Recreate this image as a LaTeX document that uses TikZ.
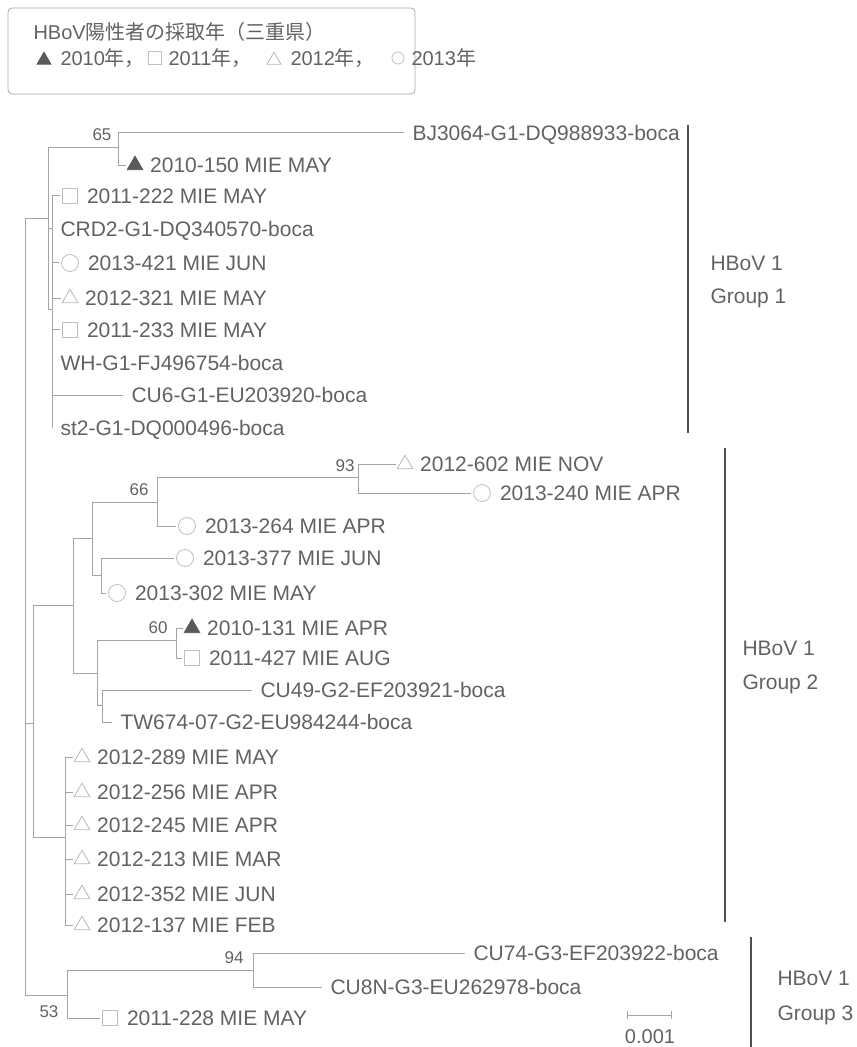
\documentclass[tikz,border=0pt]{standalone}
\usepackage{fontspec}
\setmainfont{Liberation Sans}
\newfontfamily\jp{Noto Sans CJK JP}
\usetikzlibrary{arrows.meta,positioning,shapes.geometric}
\definecolor{txtgray}{HTML}{626262}
\definecolor{linegray}{HTML}{A4A4A4}
\definecolor{bargray}{HTML}{505050}
\tikzset{every picture/.style={line width=0.5pt},
  branch/.style={draw=linegray, line width=0.5pt},
  leaf/.style={anchor=west, inner xsep=4pt, inner ysep=0pt, text height=7.5pt, text depth=0pt, text=txtgray, font=\fontsize{10.5}{12}\selectfont},
  legtxt/.style={anchor=west, inner sep=0pt, text height=7.5pt, text depth=0pt, text=txtgray, font=\fontsize{10}{12}\selectfont},
  boot/.style={inner sep=0pt, text=txtgray, font=\fontsize{8.5}{10}\selectfont},
  grp/.style={anchor=west, inner sep=0pt, text height=7.5pt, text depth=0pt, text=txtgray, font=\fontsize{10.5}{12}\selectfont},
  bar/.style={draw=bargray, line width=0.75pt},
  mtri/.style={regular polygon, regular polygon sides=3, minimum size=9pt, inner sep=0pt, outer sep=1.5pt, yshift=-1.1pt, draw=black!28, line width=0.4pt},
  mtrifill/.style={mtri, draw=black!65, fill=black!65},
  msq/.style={rectangle, minimum size=7.5pt, inner sep=0pt, outer sep=1.5pt, draw=black!25, line width=0.4pt},
  mcirc/.style={circle, minimum size=8.5pt, inner sep=0pt, outer sep=1.5pt, draw=black!25, line width=0.4pt}}

\begin{document}
\begin{tikzpicture}[x=0.5pt, y=-0.5pt]
    \useasboundingbox (0,0) rectangle (856,1047);

    % 绘制 图例
    \draw[draw=black!35, rounded corners=2pt, line width=0.4pt] (8,8) rectangle (415,94);
    \node[legtxt] (legtitle) at (33,32) {HBoV{\jp 陽性者の採取年（三重県）}};
    \node[mtrifill, minimum size=8pt] (lg10) at (44,58) {};
    \node[legtxt] (lt10) at (60,58) {2010{\jp 年，}};
    \node[msq, minimum size=6.5pt] (lg11) at (155,58) {};
    \node[legtxt] (lt11) at (168,58) {2011{\jp 年，}};
    \node[mtri, minimum size=8pt] (lg12) at (274,58) {};
    \node[legtxt] (lt12) at (290,58) {2012{\jp 年，}};
    \node[mcirc, minimum size=6pt] (lg13) at (398,58) {};
    \node[legtxt] (lt13) at (411,58) {2013{\jp 年}};

    % 绘制 内部节点
    \coordinate (root) at (25,607);
    \coordinate (g1) at (48,219);
    \coordinate (g1s) at (52,310);
    \coordinate (n65) at (118,148);
    \coordinate (g2) at (33,723);
    \coordinate (nB) at (73,605);
    \coordinate (nC) at (92,538);
    \coordinate (nD) at (157,502);
    \coordinate (nE) at (358,477);
    \coordinate (nF) at (101,575);
    \coordinate (nG) at (97,673);
    \coordinate (nH) at (176,640);
    \coordinate (nI) at (102,705);
    \coordinate (nJ) at (65,837);
    \coordinate (g3) at (67,995);
    \coordinate (nK) at (253,970);

    % 绘制 Group 1
    \node[leaf] (bj) at (404,133) {BJ3064-G1-DQ988933-boca};
    \node[mtrifill] (m150) at (135,163) {};
    \node[leaf, right=-1pt of m150] (t150) {2010-150 MIE MAY};
    \node[msq] (m222) at (70,196) {};
    \node[leaf, right=-1pt of m222] (t222) {2011-222 MIE MAY};
    \node[leaf] (crd2) at (52,229) {CRD2-G1-DQ340570-boca};
    \node[mcirc] (m421) at (70,263) {};
    \node[leaf, right=-1pt of m421] (t421) {2013-421 MIE JUN};
    \node[mtri] (m321) at (70,296) {};
    \node[leaf, right=-1pt of m321] (t321) {2012-321 MIE MAY};
    \node[msq] (m233) at (70,330) {};
    \node[leaf, right=-1pt of m233] (t233) {2011-233 MIE MAY};
    \node[leaf] (wh) at (52,363) {WH-G1-FJ496754-boca};
    \node[leaf] (cu6) at (123,395) {CU6-G1-EU203920-boca};
    \node[leaf] (st2) at (52,428) {st2-G1-DQ000496-boca};
    \node[boot] (b65) at (102,135) {65};

    \draw[branch] (root) |- (g1);
    \draw[branch] (g1) |- (n65);
    \draw[branch] (g1) |- (crd2.west);
    \draw[branch] (g1) |- (g1s);
    \draw[branch] (n65) |- (bj.west);
    \draw[branch] (n65) |- (m150.west);
    \draw[branch] (g1s) |- (m222.west);
    \draw[branch] (g1s) |- (m421.west);
    \draw[branch] (g1s) |- (m321.west);
    \draw[branch] (g1s) |- (m233.west);
    \draw[branch] (g1s) |- (wh.west);
    \draw[branch] (g1s) |- (cu6.west);
    \draw[branch] (g1s) |- (st2.west);

    % 绘制 Group 2
    \node[mtri] (m602) at (405,462) {};
    \node[leaf, right=-1pt of m602] (t602) {2012-602 MIE NOV};
    \node[mcirc] (m240) at (482,493) {};
    \node[leaf, right=-1pt of m240] (t240) {2013-240 MIE APR};
    \node[mcirc] (m264) at (187,526) {};
    \node[leaf, right=-1pt of m264] (t264) {2013-264 MIE APR};
    \node[mcirc] (m377) at (185,558) {};
    \node[leaf, right=-1pt of m377] (t377) {2013-377 MIE JUN};
    \node[mcirc] (m302) at (117,593) {};
    \node[leaf, right=-1pt of m302] (t302) {2013-302 MIE MAY};
    \node[mtrifill] (m131) at (192,626) {};
    \node[leaf, right=-1pt of m131] (t131) {2010-131 MIE APR};
    \node[msq] (m427) at (192,658) {};
    \node[leaf, right=-1pt of m427] (t427) {2011-427 MIE AUG};
    \node[leaf] (cu49) at (252,690) {CU49-G2-EF203921-boca};
    \node[leaf] (tw674) at (112,722) {TW674-07-G2-EU984244-boca};
    \node[boot] (b93) at (345,466) {93};
    \node[boot] (b66) at (139,490) {66};
    \node[boot] (b60) at (158,628) {60};

    \draw[branch] (root) |- (g2);
    \draw[branch] (g2) |- (nB);
    \draw[branch] (g2) |- (nJ);
    \draw[branch] (nB) |- (nC);
    \draw[branch] (nB) |- (nG);
    \draw[branch] (nC) |- (nD);
    \draw[branch] (nC) |- (nF);
    \draw[branch] (nD) |- (nE);
    \draw[branch] (nD) |- (m264.west);
    \draw[branch] (nE) |- (m602.west);
    \draw[branch] (nE) |- (m240.west);
    \draw[branch] (nF) |- (m377.west);
    \draw[branch] (nF) |- (m302.west);
    \draw[branch] (nG) |- (nH);
    \draw[branch] (nG) |- (nI);
    \draw[branch] (nH) |- (m131.west);
    \draw[branch] (nH) |- (m427.west);
    \draw[branch] (nI) |- (cu49.west);
    \draw[branch] (nI) |- (tw674.west);

    \foreach \id/\yy/\mon in {289/755/MAY, 256/790/APR, 245/823/APR, 213/857/MAR, 352/892/JUN, 137/923/FEB} {
        \node[mtri] (m\id) at (82,\yy) {};
        \node[leaf, right=-1pt of m\id] (t\id) {2012-\id{} MIE \mon};
        \draw[branch] (nJ) |- (m\id.west);
    }

    % 绘制 Group 3
    \node[leaf] (cu74) at (465,953) {CU74-G3-EF203922-boca};
    \node[leaf] (cu8n) at (322,987) {CU8N-G3-EU262978-boca};
    \node[msq] (m228) at (110,1018) {};
    \node[leaf, right=-1pt of m228] (t228) {2011-228 MIE MAY};
    \node[boot] (b94) at (234,958) {94};
    \node[boot] (b53) at (49,1012) {53};

    \draw[branch] (root) |- (g3);
    \draw[branch] (g3) |- (nK);
    \draw[branch] (g3) |- (m228.west);
    \draw[branch] (nK) |- (cu74.west);
    \draw[branch] (nK) |- (cu8n.west);

    % 绘制 分组标记
    \draw[bar] (688,125) -- (688,433);
    \node[grp] (hb1) at (710,263) {HBoV 1};
    \node[grp] (gp1) at (710,296) {Group 1};
    \draw[bar] (725,448) -- (725,922);
    \node[grp] (hb2) at (742,648) {HBoV 1};
    \node[grp] (gp2) at (742,682) {Group 2};
    \draw[bar] (751,937) -- (751,1047);
    \node[grp] (hb3) at (777,978) {HBoV 1};
    \node[grp] (gp3) at (777,1013) {Group 3};

    % 绘制 标尺
    \coordinate (sbL) at (627,1015);
    \coordinate (sbR) at (672,1015);
    \draw[branch, {Bar[width=4pt]}-{Bar[width=4pt]}] (sbL) -- (sbR);
    \node[boot, font=\fontsize{10}{12}\selectfont] (sblab) at (650,1037) {0.001};
\end{tikzpicture}
\end{document}
